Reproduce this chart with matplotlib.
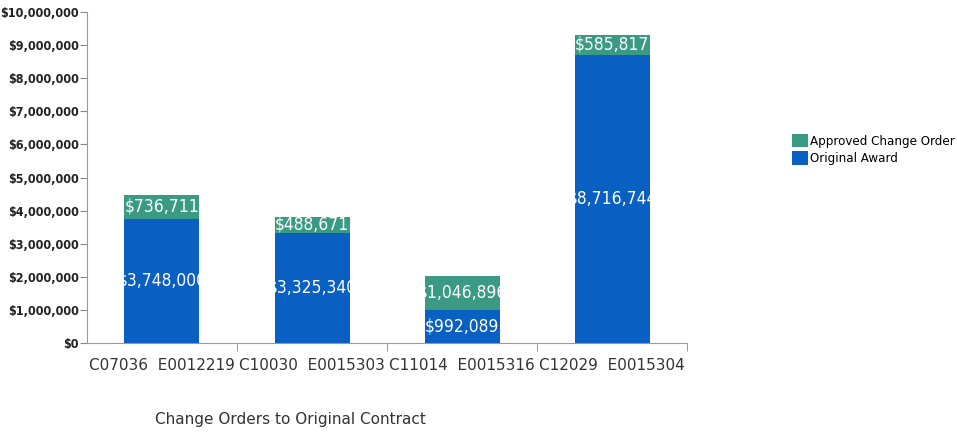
import numpy as np
import matplotlib.pyplot as plt
from matplotlib.ticker import FuncFormatter, FixedLocator

contracts = ['C07036  E0012219', 'C10030  E0015303', 'C11014  E0015316', 'C12029  E0015304']
original_award = [3748000, 3325340, 992089, 8716744]
change_order = [736711, 488671, 1046896, 585817]

blue = '#0a5fc2'
green = '#3b9a84'

fig = plt.figure(figsize=(9.57, 4.32), dpi=100)
ax = fig.add_axes([0.0909, 0.206, 0.627, 0.766])

x = np.arange(len(contracts))
b1 = ax.bar(x, original_award, width=0.5, color=blue, label='Original Award')
b2 = ax.bar(x, change_order, width=0.5, bottom=original_award, color=green,
            label='Approved Change Order')

# etiquetas dentro das barras, cortadas pela largura da barra
for bars, vals, bottoms in [(b1, original_award, [0] * 4), (b2, change_order, original_award)]:
    for rect, v, b in zip(bars, vals, bottoms):
        t = ax.text(rect.get_x() + rect.get_width() / 2, b + v / 2, '${:,}'.format(v),
                    ha='center', va='center', color='white', fontsize=12.5,
                    fontstretch='condensed')
        t.set_clip_path(rect)

ax.set_xlim(-0.5, len(contracts) - 0.5)
ax.set_ylim(0, 10000000)
ax.set_yticks(np.arange(0, 10000001, 1000000))
ax.yaxis.set_major_formatter(FuncFormatter(lambda v, p: '${:,.0f}'.format(v)))
ax.set_xticks(x)
ax.set_xticklabels(contracts)
ax.xaxis.set_minor_locator(FixedLocator(np.arange(0.5, len(contracts), 1)))
ax.tick_params(axis='x', which='major', length=0, labelsize=11, labelcolor='#333333', pad=11)
ax.tick_params(axis='x', which='minor', length=6, color='#888888', direction='out')
ax.tick_params(axis='y', length=5, color='#888888', labelsize=9, labelcolor='#222222', pad=1)
for lbl in ax.get_yticklabels():
    lbl.set_fontweight('bold')
    lbl.set_fontstretch('condensed')

for s in ['top', 'right']:
    ax.spines[s].set_visible(False)
for s in ['left', 'bottom']:
    ax.spines[s].set_color('#999999')

fig.text(0.304, 0.012, 'Change Orders to Original Contract', ha='center', va='bottom',
         fontsize=11, color='#333333')

handles, labels = ax.get_legend_handles_labels()
ax.legend(handles[::-1], labels[::-1], loc='center left', bbox_to_anchor=(1.155, 0.585),
          frameon=False, handlelength=1.2, handleheight=1.2,
          handletextpad=0.15, labelspacing=0.25, prop={'stretch': 'condensed', 'size': 9.5})

fig.savefig('out.png', dpi=100)
